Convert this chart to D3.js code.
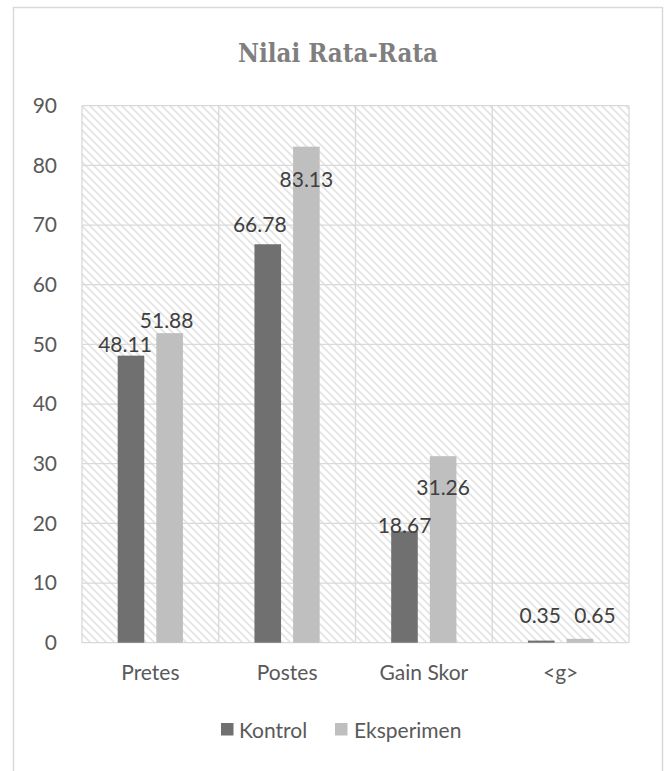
<!DOCTYPE html>
<html>
<head>
<meta charset="utf-8">
<script src="https://cdn.jsdelivr.net/npm/d3@7/dist/d3.min.js"></script>
<style>
  html, body { margin: 0; padding: 0; background: #ffffff; }
  svg { display: block; }
</style>
</head>
<body>
<script>
// ---- data ----
const categories = ["Pretes", "Postes", "Gain Skor", "<g>"];
const series = ["Kontrol", "Eksperimen"];
const kontrolValues = [48.11, 66.78, 18.67, 0.35];
const eksperimenValues = [51.88, 83.13, 31.26, 0.65];
const yTicks = [0, 10, 20, 30, 40, 50, 60, 70, 80, 90];
const chartTitle = "Nilai Rata-Rata";

// ---- layout ----
const W = 667, H = 771;
const plot = { left: 82, right: 629, top: 105.7, bottom: 642.7 };
const colors = { Kontrol: "#707070", Eksperimen: "#bfbfbf" };
const FONT = "Lato, 'Open Sans', sans-serif";

// manual label nudges (dx, dy relative to bar top-centre), as in the source chart
const labelNudge = {
  Kontrol:    [[-6, -4], [-8, -12.5], [0, 1.7], [-1, -18]],
  Eksperimen: [[-3, -5], [0, 40], [0, 39], [15, -16]]
};

const svg = d3.select("body").append("svg").attr("width", W).attr("height", H);

// hatch pattern
const defs = svg.append("defs");
const pat = defs.append("pattern")
  .attr("id", "hatch").attr("patternUnits", "userSpaceOnUse")
  .attr("width", 8).attr("height", 8);
pat.append("rect").attr("width", 8).attr("height", 8).attr("fill", "#ffffff");
pat.append("path")
  .attr("d", "M-2,-2 L10,10 M-2,6 L2,10 M6,-2 L10,2")
  .attr("stroke", "#e3e3e3").attr("stroke-width", 1.6).attr("fill", "none");

// outer chart border
svg.append("rect")
  .attr("x", 13.5).attr("y", 7.5).attr("width", 649).attr("height", 820)
  .attr("fill", "none").attr("stroke", "#d9d9d9").attr("stroke-width", 1.5);

// title
svg.append("text")
  .attr("x", 338).attr("y", 61.7)
  .attr("text-anchor", "middle")
  .attr("font-family", "'DejaVu Serif Condensed', 'DejaVu Serif', serif")
  .attr("font-stretch", "condensed")
  .attr("font-weight", "bold").attr("font-size", 26)
  .attr("textLength", 200).attr("lengthAdjust", "spacingAndGlyphs")
  .attr("fill", "#7f7f7f")
  .text(chartTitle);

// scales
const x = d3.scaleBand().domain(categories).range([plot.left, plot.right]).padding(0);
const step = x.bandwidth();
const xs = d3.scaleBand().domain(series)
  .range([step * 0.261, step * 0.738]).paddingInner(0.312).paddingOuter(0);
const y = d3.scaleLinear().domain([0, 90]).range([plot.bottom, plot.top]);

// plot background
svg.append("rect")
  .attr("x", plot.left).attr("y", plot.top)
  .attr("width", plot.right - plot.left).attr("height", plot.bottom - plot.top)
  .attr("fill", "url(#hatch)");

// horizontal gridlines
const grid = svg.append("g");
grid.selectAll("line.h").data(yTicks).join("line")
  .attr("class", "h")
  .attr("x1", plot.left).attr("x2", plot.right)
  .attr("y1", d => y(d)).attr("y2", d => y(d))
  .attr("stroke", "#d9d9d9").attr("stroke-width", 1.3);
// vertical gridlines (category dividers)
const vlines = categories.map(c => x(c)).concat([plot.right]);
grid.selectAll("line.v").data(vlines).join("line")
  .attr("class", "v")
  .attr("x1", d => d).attr("x2", d => d)
  .attr("y1", plot.top).attr("y2", plot.bottom)
  .attr("stroke", "#d9d9d9").attr("stroke-width", 1.3);

// y axis labels
const yAxis = d3.axisLeft(y).tickValues(yTicks).tickSize(0).tickPadding(25);
const yg = svg.append("g").attr("transform", `translate(${plot.left},0)`).call(yAxis);
yg.select(".domain").remove();
yg.selectAll("text")
  .attr("font-family", FONT).attr("font-size", 21).attr("fill", "#595959");

// x axis labels
const xAxis = d3.axisBottom(x).tickSize(0).tickPadding(22);
const xg = svg.append("g").attr("transform", `translate(0,${plot.bottom})`).call(xAxis);
xg.select(".domain").remove();
xg.selectAll("text")
  .attr("font-family", FONT).attr("font-size", 21).attr("fill", "#595959");

// bars
const rows = categories.map((c, i) => ({
  cat: c,
  vals: [
    { s: "Kontrol", v: kontrolValues[i], i },
    { s: "Eksperimen", v: eksperimenValues[i], i }
  ]
}));
const groups = svg.append("g").selectAll("g").data(rows).join("g")
  .attr("transform", d => `translate(${x(d.cat)},0)`);
groups.selectAll("rect").data(d => d.vals).join("rect")
  .attr("x", d => xs(d.s)).attr("width", xs.bandwidth())
  .attr("y", d => y(d.v)).attr("height", d => y(0) - y(d.v))
  .attr("fill", d => colors[d.s]);

// data labels
groups.selectAll("text").data(d => d.vals).join("text")
  .attr("x", d => xs(d.s) + xs.bandwidth() / 2 + labelNudge[d.s][d.i][0])
  .attr("y", d => y(d.v) + labelNudge[d.s][d.i][1])
  .attr("text-anchor", "middle")
  .attr("font-family", FONT).attr("font-size", 21).attr("fill", "#404040")
  .text(d => d3.format(".2f")(d.v));

// legend
const legend = svg.append("g");
const legendItems = [
  { s: "Kontrol", sx: 221, tx: 239 },
  { s: "Eksperimen", sx: 335, tx: 354 }
];
legend.selectAll("rect").data(legendItems).join("rect")
  .attr("x", d => d.sx).attr("y", 723).attr("width", 12.5).attr("height", 12.5)
  .attr("fill", d => colors[d.s]);
legend.selectAll("text").data(legendItems).join("text")
  .attr("x", d => d.tx).attr("y", 738)
  .attr("font-family", FONT).attr("font-size", 21).attr("fill", "#595959")
  .text(d => d.s);
</script>
</body>
</html>
